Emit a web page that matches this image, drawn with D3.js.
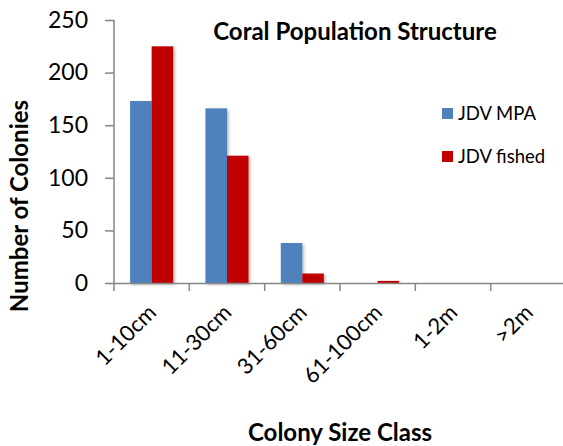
<!DOCTYPE html>
<html>
<head>
<meta charset="utf-8">
<script src="https://cdn.jsdelivr.net/npm/d3@7"></script>
<style>
  body { margin: 0; background: #fff; }
  svg { font-family: Lato, "Open Sans", sans-serif; }
</style>
</head>
<body>
<script>
// Data
var categories = ["1-10cm", "11-30cm", "31-60cm", "61-100cm", "1-2m", ">2m"];
var seriesNames = ["JDV MPA", "JDV fished"];
var mpaValues = [173, 166, 38, 0, 0, 0];
var fishedValues = [225, 121, 9, 2, 0, 0];
var yTicks = [0, 50, 100, 150, 200, 250];

var w = 563;
var h = 446;
var colors = ["#4F81BD", "#C00000"];

/*
-----SVG-----
*/
var svg = d3.select("body")
  .append("svg")
  .attr("width", w)
  .attr("height", h);

var defs = svg.append("defs");
var shadow = defs.append("filter")
  .attr("id", "shadow")
  .attr("x", "-20%").attr("y", "-20%")
  .attr("width", "150%").attr("height", "150%");
shadow.append("feDropShadow")
  .attr("dx", 1.5).attr("dy", 1.5)
  .attr("stdDeviation", 1.5)
  .attr("flood-color", "#000")
  .attr("flood-opacity", 0.3);

var plotL = 114, plotR = 566, plotT = 20, plotB = 283;

var x = d3.scaleBand()
  .domain(categories)
  .range([plotL, plotR])
  .paddingInner(0)
  .paddingOuter(0);

var xSeries = d3.scaleBand()
  .domain(seriesNames)
  .range([0, x.bandwidth()])
  .paddingInner(0)
  .paddingOuter(0.75);

var y = d3.scaleLinear()
  .domain([0, 250])
  .range([plotB, plotT]);

/*
----Bars----
*/
var rows = categories.map(function(c, i) {
  return { cat: c, vals: [mpaValues[i], fishedValues[i]] };
});

var groups = svg.selectAll(".group")
  .data(rows)
  .enter()
  .append("g")
  .attr("class", "group")
  .attr("transform", function(d) { return "translate(" + x(d.cat) + ",0)"; });

groups.selectAll("rect")
  .data(function(d) {
    return d.vals.map(function(v, j) { return { name: seriesNames[j], v: v, j: j }; });
  })
  .enter()
  .filter(function(d) { return d.v > 0; })
  .append("rect")
  .attr("x", function(d) { return xSeries(d.name); })
  .attr("width", xSeries.bandwidth())
  .attr("y", function(d) { return y(d.v); })
  .attr("height", function(d) { return y(0) - y(d.v); })
  .attr("fill", function(d) { return colors[d.j]; })
  .attr("filter", "url(#shadow)");

/*
----Axes----
*/
var yAxis = svg.append("g")
  .attr("transform", "translate(" + plotL + ",0)")
  .call(d3.axisLeft(y).tickValues(yTicks).tickSize(9).tickPadding(17));

yAxis.select(".domain").attr("stroke", "#868686").attr("stroke-width", 1.5)
  .attr("d", "M0," + plotT + "V" + plotB);
yAxis.selectAll(".tick line").attr("stroke", "#868686").attr("stroke-width", 1.5);
yAxis.selectAll(".tick text")
  .attr("font-size", 23)
  .attr("fill", "#000")
  .attr("font-family", "Lato, sans-serif");

var xAxis = svg.append("g")
  .attr("transform", "translate(0," + plotB + ")")
  .call(d3.axisBottom(x).tickSize(0).tickFormat(""));

xAxis.select(".domain").attr("stroke", "#868686").attr("stroke-width", 1.5);

// tick marks at band boundaries
xAxis.selectAll(".sep")
  .data(categories)
  .enter()
  .append("line")
  .attr("x1", function(d) { return x(d); })
  .attr("x2", function(d) { return x(d); })
  .attr("y1", 0)
  .attr("y2", 8)
  .attr("stroke", "#868686")
  .attr("stroke-width", 1.5);

svg.selectAll(".xlabel")
  .data(categories)
  .enter()
  .append("text")
  .attr("class", "xlabel")
  .attr("transform", function(d) {
    return "translate(" + (x(d) + x.bandwidth() / 2 - 5) + "," + (plotB + 20) + ") rotate(-45)";
  })
  .attr("text-anchor", "end")
  .attr("dy", "0.7em")
  .attr("font-size", 22)
  .text(function(d) { return d; });

/*
----Titles----
*/
svg.append("text")
  .attr("x", 355)
  .attr("y", 40)
  .attr("text-anchor", "middle")
  .attr("font-size", 24)
  .attr("font-weight", "bold")
  .text("Coral Population Structure");

svg.append("text")
  .attr("transform", "translate(28," + 206 + ") rotate(-90)")
  .attr("text-anchor", "middle")
  .attr("font-size", 24)
  .attr("font-weight", "bold")
  .text("Number of Colonies");

svg.append("text")
  .attr("x", 340)
  .attr("y", 441)
  .attr("text-anchor", "middle")
  .attr("font-size", 24)
  .attr("font-weight", "bold")
  .text("Colony Size Class");

/*
----Legend----
*/
var legend = svg.selectAll(".legend")
  .data(seriesNames)
  .enter()
  .append("g")
  .attr("class", "legend")
  .attr("transform", function(d, i) { return "translate(442," + (108 + i * 43) + ")"; });

legend.append("rect")
  .attr("width", 11)
  .attr("height", 11)
  .attr("fill", function(d, i) { return colors[i]; });

legend.append("text")
  .attr("x", 16)
  .attr("y", 12)
  .attr("font-size", 18.5)
  .text(function(d) { return d; });
</script>
</body>
</html>
